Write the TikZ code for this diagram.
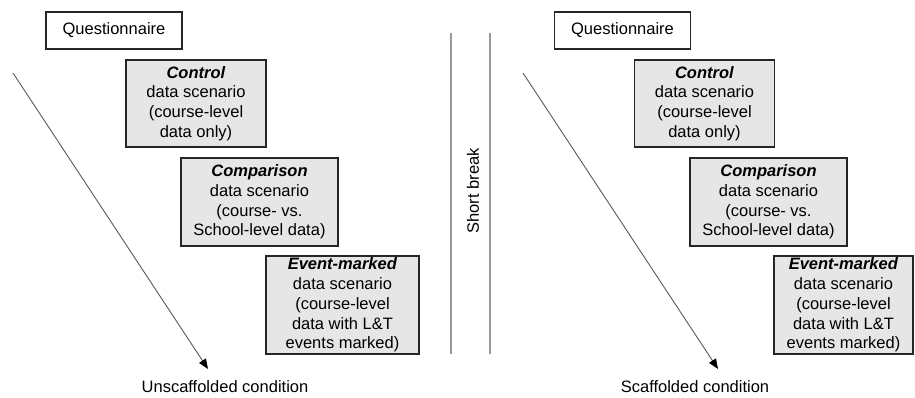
\documentclass[tikz,border=0pt]{standalone}
\usepackage{fontspec}
\setmainfont{Liberation Sans}
\usepackage{xcolor}
\usetikzlibrary{arrows.meta}
\definecolor{boxgray}{HTML}{E6E6E6}
\definecolor{linegray}{HTML}{9A9A9A}

\begin{document}
\begin{tikzpicture}[x=1pt,y=-1pt,
    every node/.style={font=\fontsize{16.5}{19.8}\selectfont},
    quest/.style={rectangle, draw=black!85, line width=1.3pt, fill=white, minimum width=136pt, minimum height=37pt, inner sep=0pt},
    scen/.style={rectangle, draw=black!85, line width=1.3pt, fill=boxgray, align=center, inner sep=0pt, minimum height=#1},
    scen/.default=87pt,
    flow/.style={draw=black!65, line width=0.9pt, -{Triangle[length=10pt,width=8pt,color=black]}},
    brk/.style={draw=linegray, line width=1.2pt}]
  \useasboundingbox (0,0) rectangle (915,397);
  % unscaffolded half
  \node [quest] (q1) at (114,30.5) {Questionnaire};
  \node [scen, minimum width=140pt] (ctl1) at (196,103.5) {\textbf{\textit{Control}}\\data scenario\\(course-level\\data only)};
  \node [scen=88pt, minimum width=157pt] (cmp1) at (259.5,202) {\textbf{\textit{Comparison}}\\data scenario\\(course- vs.\\School-level data)};
  \node [scen=98pt, minimum width=153pt] (evt1) at (342.5,305) {\textbf{\textit{Event-marked}}\\data scenario\\(course-level\\data with L\&T\\events marked)};
  \coordinate (s1) at (13,73);
  \coordinate (e1) at (208,369);
  \draw [flow] (s1) -- (e1);
  \node (cond1) at (225,387) {Unscaffolded condition};
  % short break
  \coordinate (b1t) at (451,33);
  \coordinate (b1b) at (451,354);
  \coordinate (b2t) at (490,33);
  \coordinate (b2b) at (490,354);
  \draw [brk] (b1t) -- (b1b);
  \draw [brk] (b2t) -- (b2b);
  \node [rotate=90] (brk) at (473,191) {Short break};
  % scaffolded half
  \node [quest] (q2) at (622.5,30.5) {Questionnaire};
  \node [scen, minimum width=140pt] (ctl2) at (704.5,103.5) {\textbf{\textit{Control}}\\data scenario\\(course-level\\data only)};
  \node [scen=88pt, minimum width=157pt] (cmp2) at (768.5,202) {\textbf{\textit{Comparison}}\\data scenario\\(course- vs.\\School-level data)};
  \node [scen=98pt, minimum width=139pt] (evt2) at (843.5,305) {\textbf{\textit{Event-marked}}\\data scenario\\(course-level\\data with L\&T\\events marked)};
  \coordinate (s2) at (523,73);
  \coordinate (e2) at (718,369);
  \draw [flow] (s2) -- (e2);
  \node (cond2) at (695,387) {Scaffolded condition};
\end{tikzpicture}
\end{document}
